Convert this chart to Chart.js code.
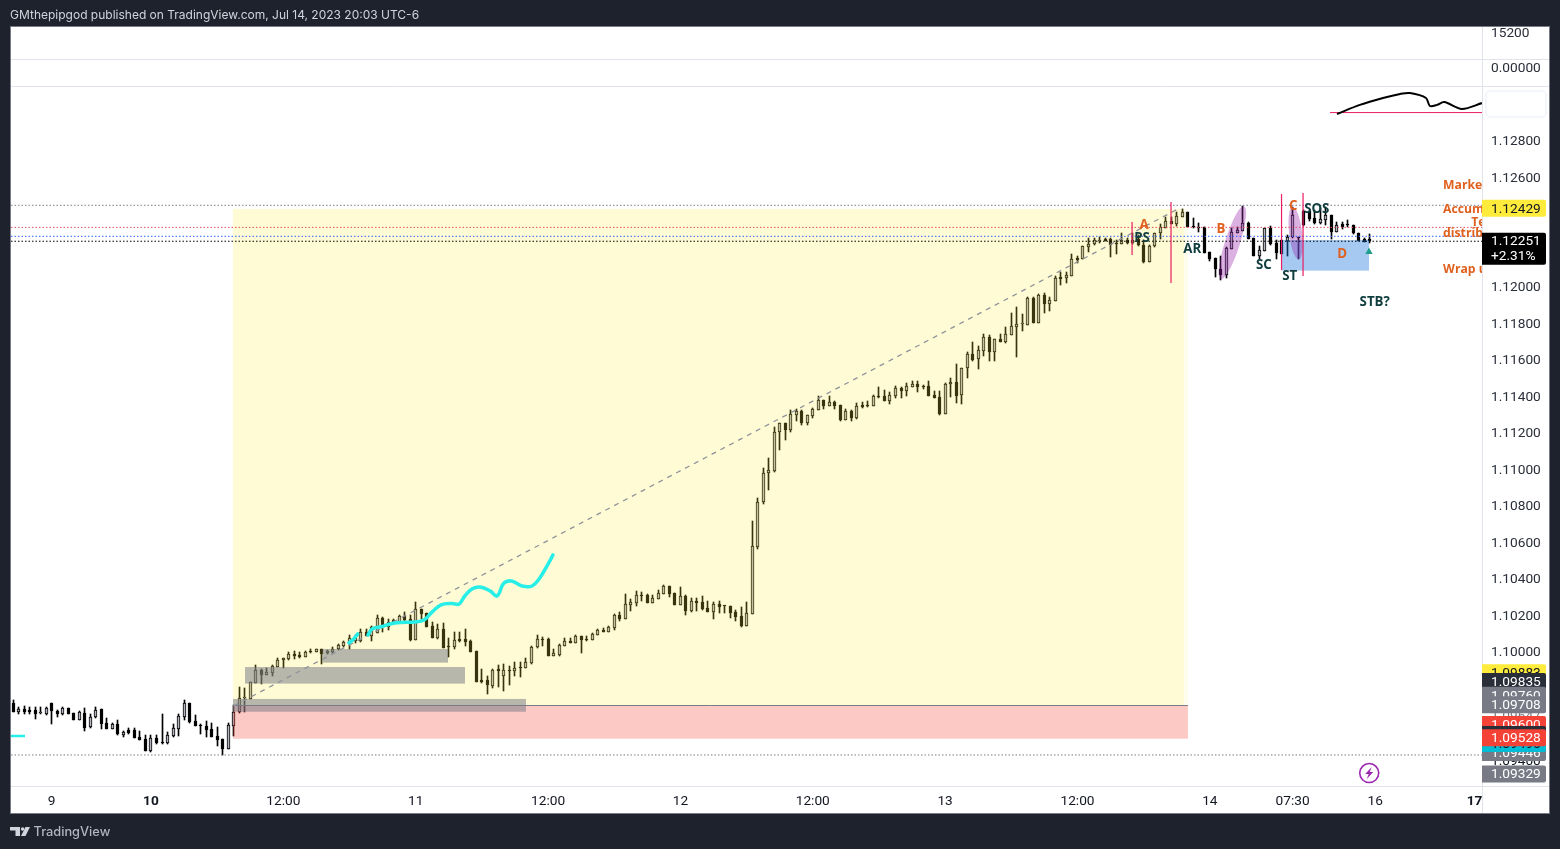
<!DOCTYPE html>
<html><head><meta charset="utf-8"><title>EURUSD chart</title>
<style>html,body{margin:0;padding:0;background:#1e222d;overflow:hidden}canvas{display:block}</style>
<script src="https://cdn.jsdelivr.net/npm/chart.js@4/dist/chart.umd.min.js"></script>
</head><body><canvas id="c" width="1560" height="849"></canvas>
<script>
const opens=[1.09716,1.09667,1.09685,1.09679,1.09678,1.09661,1.09657,1.09716,1.09676,1.09657,1.09689,1.09661,1.09626,1.09665,1.09585,1.09639,1.09683,1.09608,1.09577,1.09603,1.09544,1.09570,1.09570,1.09531,1.09519,1.09455,1.09526,1.09500,1.09500,1.09537,1.09577,1.09643,1.09716,1.09617,1.09595,1.09592,1.09577,1.09537,1.09519,1.09468,1.09594,
1.09667,1.09743,1.09742,1.09829,1.09901,1.09873,1.09884,1.09917,1.09955,1.09961,1.09986,1.09981,1.09972,1.10005,1.09999,1.10014,1.09990,1.09997,1.10012,1.10032,1.10045,1.10058,1.10059,1.10109,1.10085,1.10103,1.10184,1.10136,1.10160,1.10162,1.10195,1.10176,1.10063,1.10233,1.10209,1.10140,1.10072,1.10123,1.10030,1.10027,1.10069,1.10069,1.10058,1.10003,1.09844,1.09844,1.09811,1.09902,1.09868,1.09899,1.09895,1.09913,1.09912,
1.09937,1.10022,1.10071,1.10067,1.09977,1.09981,1.10032,1.10056,1.10049,1.10085,1.10071,1.10065,1.10093,1.10120,1.10109,1.10131,1.10200,1.10180,1.10257,1.10268,1.10310,1.10310,1.10268,1.10290,1.10317,1.10359,1.10321,1.10257,1.10305,1.10224,1.10277,1.10272,1.10239,1.10219,1.10261,1.10250,1.10250,1.10217,1.10195,1.10142,1.10208,1.10575,
1.10818,1.10979,1.10988,1.11201,1.11251,1.11214,1.11298,1.11318,1.11254,1.11293,1.11326,1.11379,1.11347,1.11366,1.11351,1.11271,1.11318,1.11280,1.11351,1.11349,1.11347,1.11400,1.11400,1.11375,1.11402,1.11442,1.11430,1.11450,1.11466,1.11455,1.11455,1.11406,1.11393,1.11304,1.11464,1.11475,1.11404,1.11552,1.11629,1.11600,1.11649,1.11722,1.11643,1.11713,1.11698,
1.11734,1.11780,1.11793,1.11791,1.11939,1.11802,1.11952,1.11906,1.11923,1.12050,1.12045,1.12059,1.12154,1.12151,1.12218,1.12231,1.12251,1.12259,1.12259,1.12240,1.12235,1.12255,1.12238,1.12259,1.12227,1.12136,1.12220,1.12291,1.12322,1.12359,1.12343,1.12383,1.12406,1.12327,1.12324,1.12324,1.12189,1.12158,1.12096,1.12063,1.12205,1.12295,1.12306,1.12346,1.12264,1.12167,1.12194,1.12320,1.12236,1.12254,1.12251,1.12269,1.12270,1.12415,1.12415,1.12375,1.12346,1.12366,1.12391,1.12300,1.12340,1.12342,1.12337,1.12295,1.12258,1.12260];
const highs=[1.09734,1.09698,1.09701,1.09694,1.09694,1.09694,1.09694,1.09716,1.09679,1.09694,1.09690,1.09661,1.09672,1.09689,1.09656,1.09694,1.09687,1.09634,1.09610,1.09625,1.09566,1.09581,1.09581,1.09563,1.09544,1.09542,1.09544,1.09656,1.09559,1.09603,1.09657,1.09734,1.09716,1.09652,1.09603,1.09621,1.09610,1.09588,1.09519,1.09610,1.09705,
1.09804,1.09798,1.09835,1.09926,1.09904,1.09910,1.09926,1.09966,1.09963,1.09996,1.10003,1.09999,1.10003,1.10014,1.10014,1.10014,1.10008,1.10023,1.10041,1.10058,1.10090,1.10090,1.10122,1.10123,1.10140,1.10200,1.10191,1.10176,1.10176,1.10198,1.10218,1.10200,1.10269,1.10233,1.10209,1.10160,1.10149,1.10154,1.10076,1.10105,1.10105,1.10123,1.10063,1.10003,1.09902,1.09866,1.09904,1.09926,1.09932,1.09923,1.09941,1.09944,1.09963,
1.10031,1.10091,1.10078,1.10076,1.10012,1.10040,1.10073,1.10073,1.10091,1.10085,1.10087,1.10100,1.10124,1.10127,1.10140,1.10204,1.10219,1.10315,1.10288,1.10332,1.10325,1.10314,1.10308,1.10337,1.10365,1.10359,1.10321,1.10354,1.10310,1.10294,1.10295,1.10305,1.10274,1.10270,1.10277,1.10250,1.10250,1.10228,1.10246,1.10272,1.10715,1.10840,
1.11004,1.11059,1.11229,1.11254,1.11251,1.11324,1.11329,1.11322,1.11296,1.11333,1.11400,1.11379,1.11400,1.11375,1.11353,1.11327,1.11324,1.11360,1.11368,1.11373,1.11406,1.11450,1.11433,1.11422,1.11455,1.11448,1.11472,1.11483,1.11483,1.11462,1.11483,1.11428,1.11428,1.11470,1.11497,1.11576,1.11552,1.11643,1.11694,1.11674,1.11738,1.11733,1.11711,1.11738,1.11778,
1.11853,1.11890,1.11850,1.11944,1.11944,1.11957,1.11963,1.11944,1.12058,1.12081,1.12081,1.12176,1.12167,1.12224,1.12264,1.12268,1.12269,1.12264,1.12264,1.12255,1.12291,1.12264,1.12291,1.12282,1.12255,1.12227,1.12295,1.12343,1.12379,1.12383,1.12406,1.12423,1.12406,1.12373,1.12346,1.12327,1.12189,1.12158,1.12167,1.12214,1.12318,1.12328,1.12443,1.12355,1.12264,1.12222,1.12320,1.12333,1.12254,1.12254,1.12282,1.12433,1.12272,1.12419,1.12419,1.12419,1.12428,1.12437,1.12391,1.12355,1.12355,1.12364,1.12337,1.12295,1.12264,1.12286];
const lows=[1.09668,1.09657,1.09657,1.09657,1.09632,1.09657,1.09654,1.09603,1.09643,1.09650,1.09657,1.09625,1.09625,1.09566,1.09581,1.09634,1.09574,1.09574,1.09574,1.09544,1.09533,1.09548,1.09526,1.09515,1.09455,1.09449,1.09493,1.09495,1.09493,1.09530,1.09539,1.09625,1.09610,1.09592,1.09548,1.09533,1.09530,1.09484,1.09433,1.09466,1.09537,
1.09665,1.09667,1.09740,1.09826,1.09822,1.09870,1.09866,1.09913,1.09912,1.09954,1.09959,1.09963,1.09968,1.09994,1.09997,1.09933,1.09986,1.09990,1.10008,1.10027,1.10016,1.10045,1.10054,1.10085,1.10059,1.10103,1.10109,1.10118,1.10158,1.10160,1.10169,1.10059,1.10063,1.10178,1.10136,1.10072,1.10070,1.10017,1.09972,1.10014,1.10054,1.10032,1.09996,1.09831,1.09826,1.09767,1.09798,1.09804,1.09786,1.09817,1.09866,1.09862,1.09908,
1.09930,1.10018,1.10032,1.09975,1.09975,1.09975,1.10029,1.10047,1.10045,1.09990,1.10058,1.10063,1.10089,1.10107,1.10107,1.10120,1.10169,1.10179,1.10224,1.10252,1.10279,1.10264,1.10266,1.10288,1.10315,1.10297,1.10255,1.10255,1.10200,1.10219,1.10224,1.10228,1.10217,1.10180,1.10213,1.10213,1.10186,1.10169,1.10135,1.10140,1.10206,1.10564,
1.10810,1.10885,1.10984,1.11105,1.11159,1.11200,1.11262,1.11243,1.11243,1.11278,1.11324,1.11329,1.11346,1.11331,1.11265,1.11269,1.11265,1.11276,1.11336,1.11342,1.11346,1.11389,1.11373,1.11358,1.11391,1.11391,1.11400,1.11448,1.11422,1.11439,1.11400,1.11389,1.11298,1.11302,1.11397,1.11364,1.11358,1.11499,1.11594,1.11548,1.11621,1.11592,1.11592,1.11694,1.11689,
1.11734,1.11616,1.11758,1.11789,1.11798,1.11800,1.11857,1.11868,1.11919,1.12008,1.12021,1.12058,1.12131,1.12149,1.12191,1.12227,1.12240,1.12249,1.12164,1.12178,1.12231,1.12235,1.12235,1.12222,1.12131,1.12134,1.12218,1.12260,1.12321,1.12343,1.12333,1.12379,1.12325,1.12322,1.12300,1.12185,1.12141,1.12050,1.12035,1.12044,1.12203,1.12291,1.12304,1.12258,1.12165,1.12149,1.12192,1.12227,1.12149,1.12176,1.12167,1.12267,1.12151,1.12333,1.12360,1.12342,1.12340,1.12337,1.12260,1.12298,1.12315,1.12324,1.12289,1.12249,1.12242,1.12240];
const closes=[1.09670,1.09683,1.09667,1.09668,1.09657,1.09662,1.09690,1.09676,1.09657,1.09690,1.09657,1.09626,1.09668,1.09581,1.09639,1.09678,1.09603,1.09577,1.09601,1.09546,1.09557,1.09555,1.09528,1.09517,1.09457,1.09526,1.09500,1.09498,1.09541,1.09581,1.09646,1.09716,1.09614,1.09594,1.09592,1.09570,1.09533,1.09513,1.09468,1.09595,1.09667,
1.09743,1.09745,1.09831,1.09899,1.09871,1.09888,1.09921,1.09954,1.09963,1.09986,1.09977,1.09972,1.09997,1.09996,1.10012,1.09986,1.10003,1.10012,1.10036,1.10054,1.10072,1.10076,1.10109,1.10087,1.10132,1.10184,1.10136,1.10164,1.10173,1.10195,1.10173,1.10063,1.10233,1.10204,1.10136,1.10076,1.10123,1.10021,1.10023,1.10063,1.10058,1.10050,1.09999,1.09831,1.09833,1.09815,1.09899,1.09895,1.09899,1.09895,1.09908,1.09908,1.09943,
1.10023,1.10067,1.10064,1.09977,1.09990,1.10036,1.10056,1.10049,1.10085,1.10065,1.10064,1.10096,1.10118,1.10109,1.10135,1.10200,1.10179,1.10261,1.10272,1.10310,1.10305,1.10268,1.10294,1.10321,1.10359,1.10315,1.10257,1.10303,1.10224,1.10277,1.10268,1.10233,1.10219,1.10261,1.10246,1.10248,1.10213,1.10191,1.10140,1.10210,1.10578,1.10818,
1.10977,1.10993,1.11201,1.11251,1.11214,1.11302,1.11318,1.11251,1.11294,1.11327,1.11379,1.11346,1.11366,1.11346,1.11269,1.11318,1.11282,1.11344,1.11340,1.11344,1.11400,1.11395,1.11375,1.11404,1.11442,1.11430,1.11453,1.11464,1.11452,1.11450,1.11402,1.11391,1.11302,1.11466,1.11475,1.11402,1.11552,1.11629,1.11598,1.11651,1.11722,1.11643,1.11711,1.11696,1.11738,
1.11784,1.11793,1.11795,1.11935,1.11802,1.11952,1.11906,1.11926,1.12045,1.12041,1.12061,1.12149,1.12147,1.12220,1.12231,1.12255,1.12253,1.12251,1.12229,1.12235,1.12255,1.12238,1.12255,1.12226,1.12133,1.12222,1.12291,1.12324,1.12359,1.12344,1.12386,1.12408,1.12326,1.12324,1.12322,1.12185,1.12149,1.12094,1.12063,1.12209,1.12298,1.12309,1.12346,1.12260,1.12167,1.12200,1.12318,1.12233,1.12181,1.12178,1.12273,1.12391,1.12266,1.12335,1.12368,1.12346,1.12370,1.12391,1.12300,1.12337,1.12328,1.12335,1.12291,1.12251,1.12245,1.12251];

const xTickPos=[7,25,49,73,97,121,145,169,193,217,232,247,265];
const xTickText=["9","10","12:00","11","12:00","12","12:00","13","12:00","14","07:30","16","17"];
const xTickStrong=["10","17"];
const yTickPos=[1.13392,1.13205,1.128,1.126,1.12,1.118,1.116,1.114,1.112,1.11,1.108,1.106,1.104,1.102,1.10];
const yTickText=["15200","0.00000","1.12800","1.12600","1.12000","1.11800","1.11600","1.11400","1.11200","1.11000","1.10800","1.10600","1.10400","1.10200","1.10000"];

const trendK=[40,211.6], trendP=[1.09702,1.12431];
const mainCurveK=[64.35,65.1,66.9,68.35,70.16,72.88,74.5,75.95,77.6,79.6,80.85,81.9,83.2,84.65,86.5,87.75,89,90.4,92.3,94.1,95.5,96.8,97.9];
const mainCurveP=[1.10090,1.10123,1.10137,1.10151,1.10159,1.10162,1.10173,1.10216,1.10255,1.10263,1.10260,1.10304,1.10342,1.10353,1.10332,1.10304,1.10375,1.10386,1.10359,1.10359,1.10403,1.10468,1.10529];
const squiggleK=[60.9,61.6,62.5], squiggleP=[1.10047,1.10063,1.10096];
const stubK=[-0.38,2.16], stubP=[1.09537,1.09537];
const blackCurveK=[240.06,244.2,248.4,251.5,253.3,256.2,256.9,258.2,259.5,262.7,266.35];
const blackCurveP=[1.12945,1.12995,1.13033,1.13055,1.13060,1.13033,1.12989,1.12995,1.13011,1.12973,1.13005];
const pinkLevelK=[238.8,266.35], pinkLevelP=[1.12953,1.12953];
const stemK=[202.9,209.96,230,233.9], stemTop=[1.12353,1.12463,1.12507,1.12512], stemBottom=[1.12173,1.12019,1.12090,1.12058];
const dottedPrices=[1.12445,1.12324,1.12275,1.12248,1.09433];
const dottedColors=["#787b86","#e0505f","#2962ff","#000000","#787b86"];
const markerK=[245.86], markerP=[1.12190];

const boxes=[
 {k1:39.87,k2:212.3,p1:1.12425,p2:1.09705,fill:"rgba(255,235,59,.22)"},
 {k1:212.3,k2:213.03,p1:1.12425,p2:1.09705,fill:"rgba(255,235,59,.09)"},
 {k1:39.87,k2:213.03,p1:1.09705,p2:1.09522,fill:"rgba(244,67,54,.287)"},
 {k1:56.1,k2:78.86,p1:1.10014,p2:1.09939,fill:"rgba(120,123,134,.53)"},
 {k1:42.05,k2:81.94,p1:1.09915,p2:1.09824,fill:"rgba(120,123,134,.53)"},
 {k1:39.87,k2:93,p1:1.09740,p2:1.09670,fill:"rgba(120,123,134,.53)"},
 {k1:230,k2:245.86,p1:1.12255,p2:1.12087,fill:"rgba(30,120,220,.4)"}
];
const ellipses=[{k1:219.0,p1:1.12040,k2:223.2,p2:1.12440,half:7.5},{k1:232,p1:1.12437,k2:233.1,p2:1.12149,half:6.5}];
const notes=[
 ["A",205.1,1.12337,"o"],["PS",204.7,1.12266,"d"],["B",219,1.12315,"o"],["AR",213.8,1.12205,"d"],
 ["SC",226.8,1.12118,"d"],["ST",231.5,1.12058,"d"],["C",232.1,1.12441,"o"],["SOS",236.4,1.12425,"d"],
 ["D",241,1.12178,"o"],["STB?",246.9,1.11915,"d"]
];
const sideNotes=[["Market",259.3,1.12556],["Accum",259.3,1.12425],["Te",264.4,1.12353],["distrib",259.3,1.12293],["Wrap u",259.3,1.12096]];
const priceTags=[
 [1.09883,"#ffeb3b","#131722"],[1.09835,"#2a2e39","#ffffff"],
 [1.09760,"#787b86","#ffffff"],[1.09647,"#ffffff","#787b86"],[1.09708,"#787b86","#ffffff"],
 [1.09600,"#f44336","#ffffff"],[1.09545,"#2a2e39","#ffffff"],
 [1.09400,"#ffffff","#131722"],[1.09329,"#787b86","#ffffff"],[1.09446,"#787b86","#ffffff"],
 [1.09496,"#00bcd4","#131722"],[1.09528,"#f44336","#ffffff"],[1.12429,"#ffeb3b","#131722"]
];
const lastPrice=1.12251, lastChange="+2.31%";
const boltK=245.9, boltP=1.09334;
const headerText="GMthepipgod published on TradingView.com, Jul 14, 2023 20:03 UTC-6";
const brandText="TradingView";

const FONT='Roboto, "Liberation Sans", sans-serif';
const UIFONT='Inter, "Liberation Sans", sans-serif';
const kMin=-0.381,kMax=266.35,pMin=1.09263,pMax=1.134219;

function xy(K,P){return K.map((k,i)=>({x:k,y:P[i]}));}
function lineDs(data,color,width,extra){return Object.assign({type:'line',data,borderColor:color,borderWidth:width,pointRadius:0,fill:false,order:2,tension:0},extra||{});}
const idx=opens.map((_,i)=>i);
const datasets=[
 {type:'bar',data:idx.map(i=>({x:i,y:[lows[i],highs[i]]})),backgroundColor:'#000',barThickness:1,grouped:false,order:6},
 {type:'bar',data:idx.map(i=>({x:i,y:[Math.min(opens[i],closes[i]),Math.max(opens[i],closes[i])]})),
  backgroundColor:idx.map(i=>closes[i]>=opens[i]?'#b2b5be':'#000'),borderColor:'#000',borderWidth:1,borderSkipped:false,barThickness:3,minBarLength:1,grouped:false,order:5},
 lineDs(xy(trendK,trendP),'#8f929b',1.3,{borderDash:[5,5],order:3}),
 lineDs(xy(mainCurveK,mainCurveP),'#27efe8',3.5,{tension:0.4,borderCapStyle:'round',order:1}),
 lineDs(xy(squiggleK,squiggleP),'#27efe8',3.5,{borderCapStyle:'round',order:1}),
 lineDs(xy(stubK,stubP),'#27efe8',2.5,{order:1}),
 lineDs(xy(pinkLevelK,pinkLevelP),'#e91e63',1,{order:2}),
 lineDs(xy(blackCurveK,blackCurveP),'#000',2,{tension:0.3,order:1})
];
dottedPrices.forEach((p,i)=>datasets.push(lineDs([{x:kMin,y:p},{x:kMax,y:p}],dottedColors[i],1,{borderDash:[1.5,2],order:4})));
stemK.forEach((k,i)=>datasets.push(lineDs([{x:k,y:stemTop[i]},{x:k,y:stemBottom[i]}],'#e91e63',1.2,{order:2})));
datasets.push({type:'line',data:xy(markerK,markerP),showLine:false,pointStyle:'triangle',pointRadius:4.2,pointBackgroundColor:'#1f9e8c',pointBorderWidth:0,order:1});

function roundRect(c,x,y,w,h,r){c.beginPath();c.roundRect(x,y,w,h,r);}
const annot={id:'annot',
 beforeDraw(ch){const c=ch.ctx;c.save();c.fillStyle='#1e222d';c.fillRect(0,0,1560,849);
  c.fillStyle='#787b86';c.fillRect(10,26,1540,788);c.fillStyle='#fff';c.fillRect(11,27,1538,786);c.restore();},
 beforeDatasetsDraw(ch){
  [0,1].forEach(d=>ch.getDatasetMeta(d).data.forEach(el=>{
    el.x=Math.floor(el.x)+0.5;
    const top=Math.round(Math.min(el.y,el.base));let bot=Math.round(Math.max(el.y,el.base));
    if(bot-top<1)bot=top+1;
    el.y=top;el.base=bot;
  }));},
 afterDatasetDraw(ch,args){ if(args.index!==1) return;
  const c=ch.ctx,X=ch.scales.x,Y=ch.scales.y;c.save();
  boxes.forEach(b=>{c.fillStyle=b.fill;const x=X.getPixelForValue(b.k1),y=Y.getPixelForValue(b.p1);
   c.fillRect(x,y,X.getPixelForValue(b.k2)-x,Y.getPixelForValue(b.p2)-y);});
  c.strokeStyle='#787b86';c.lineWidth=1;c.beginPath();const ly=Math.round(Y.getPixelForValue(boxes[2].p1))+0.5;
  c.moveTo(X.getPixelForValue(boxes[2].k1),ly);c.lineTo(X.getPixelForValue(boxes[2].k2),ly);c.stroke();
  c.fillStyle='rgba(156,39,176,.36)';
  ellipses.forEach(e=>{const x1=X.getPixelForValue(e.k1),y1=Y.getPixelForValue(e.p1),x2=X.getPixelForValue(e.k2),y2=Y.getPixelForValue(e.p2);
   c.beginPath();c.ellipse((x1+x2)/2,(y1+y2)/2,Math.hypot(x2-x1,y2-y1)/2,e.half,Math.atan2(y2-y1,x2-x1),0,Math.PI*2);c.fill();});
  c.restore();},
 afterDraw(ch){const c=ch.ctx,X=ch.scales.x,Y=ch.scales.y,A=ch.chartArea;c.save();
  c.strokeStyle='#e0e3eb';c.lineWidth=1;c.beginPath();
  [59.5,86.5].forEach(y=>{c.moveTo(11,y);c.lineTo(1549,y);});
  c.moveTo(11,786.5);c.lineTo(1549,786.5);c.moveTo(1482.5,27);c.lineTo(1482.5,813);c.stroke();
  c.save();c.beginPath();c.rect(A.left,A.top,A.right-A.left,A.bottom-A.top);c.clip();
  c.font='bold 13.3px "Open Sans", sans-serif';c.textAlign='center';c.textBaseline='middle';
  notes.forEach(n=>{c.fillStyle=n[3]==='o'?'#e0601e':'#0f3d3e';c.fillText(n[0],X.getPixelForValue(n[1]),Y.getPixelForValue(n[2])+0.5);});
  c.font='bold 12.2px "Open Sans", sans-serif';c.textAlign='left';c.fillStyle='#e0601e';
  sideNotes.forEach(n=>c.fillText(n[0],X.getPixelForValue(n[1]),Y.getPixelForValue(n[2])+0.5));
  c.restore();
  const bx=X.getPixelForValue(boltK),by=Y.getPixelForValue(boltP);
  c.strokeStyle='#9c27b0';c.lineWidth=1.6;c.beginPath();c.arc(bx,by,9.5,0,Math.PI*2);c.stroke();
  c.fillStyle='#9c27b0';c.beginPath();c.moveTo(bx+2.5,by-6);c.lineTo(bx-4,by+1);c.lineTo(bx-0.5,by+1);c.lineTo(bx-2.5,by+6);c.lineTo(bx+4,by-1);c.lineTo(bx+0.5,by-1);c.closePath();c.fill();
  c.fillStyle='#fff';c.strokeStyle='#f0f3fa';c.lineWidth=1.5;roundRect(c,1486,91,60,26,4);c.fill();c.stroke();
  c.font='13.7px '+FONT;c.textBaseline='middle';c.textAlign='left';
  priceTags.forEach(t=>{const y=Y.getPixelForValue(t[0]);c.fillStyle=t[1];roundRect(c,1482,y-8.5,64,17,[0,2,2,0]);c.fill();
   c.fillStyle=t[2];c.fillText(t[0].toFixed(5),1491,y+1);});
  const ly=Y.getPixelForValue(lastPrice);
  c.fillStyle='#000';roundRect(c,1482,ly-8,64,32,[0,2,2,0]);c.fill();
  c.fillStyle='#fff';c.fillText(lastPrice.toFixed(5),1491,ly+1);c.fillText(lastChange,1491,ly+16);
  c.fillStyle='#d1d4dc';c.font='12px '+UIFONT;c.fillText(headerText,10,15.5);
  c.fillStyle='#d1d4dc';c.beginPath();c.moveTo(10,827);c.lineTo(20,827);c.lineTo(20,836);c.lineTo(15.5,836);c.lineTo(15.5,830.5);c.lineTo(10,830.5);c.closePath();c.fill();
  c.beginPath();c.arc(22.6,829,1.8,0,Math.PI*2);c.fill();
  c.beginPath();c.moveTo(25.5,827);c.lineTo(30,827);c.lineTo(25.5,836);c.lineTo(21,836);c.closePath();c.fill();
  c.fillStyle='#b2b5be';c.font='500 12.8px '+UIFONT;c.fillText(brandText,33.5,832.5);
  c.restore();}
};
new Chart(document.getElementById('c'),{
 type:'bar',data:{datasets},plugins:[annot],
 options:{responsive:false,animation:false,devicePixelRatio:1,
  layout:{padding:{left:11,top:27,right:11,bottom:36}},
  plugins:{legend:{display:false},tooltip:{enabled:false},title:{display:false}},
  events:[],
  scales:{
   x:{type:'linear',offset:false,min:kMin,max:kMax,grid:{display:false,drawTicks:false},border:{display:false},
    afterBuildTicks(s){s.ticks=xTickPos.map(v=>({value:v}));},
    afterFit(s){s.height=27;},
    ticks:{autoSkip:false,maxRotation:0,padding:7,color:'#131722',
     callback(v){return xTickText[xTickPos.indexOf(v)];},
     font(ctx){const t=xTickText[ctx.index];return {family:FONT,size:13.7,weight:xTickStrong.includes(t)?'700':'400'};}}},
   y:{type:'linear',position:'right',min:pMin,max:pMax,grid:{display:false,drawTicks:false},border:{display:false},
    afterBuildTicks(s){s.ticks=yTickPos.map(v=>({value:v}));},
    afterFit(s){s.width=67;},
    ticks:{autoSkip:false,padding:9,crossAlign:'near',labelOffset:1.5,color:'#2a2e39',font:{family:FONT,size:13.7},
     callback(v){return yTickText[yTickPos.indexOf(v)];}}}
  }}
});
</script></body></html>
